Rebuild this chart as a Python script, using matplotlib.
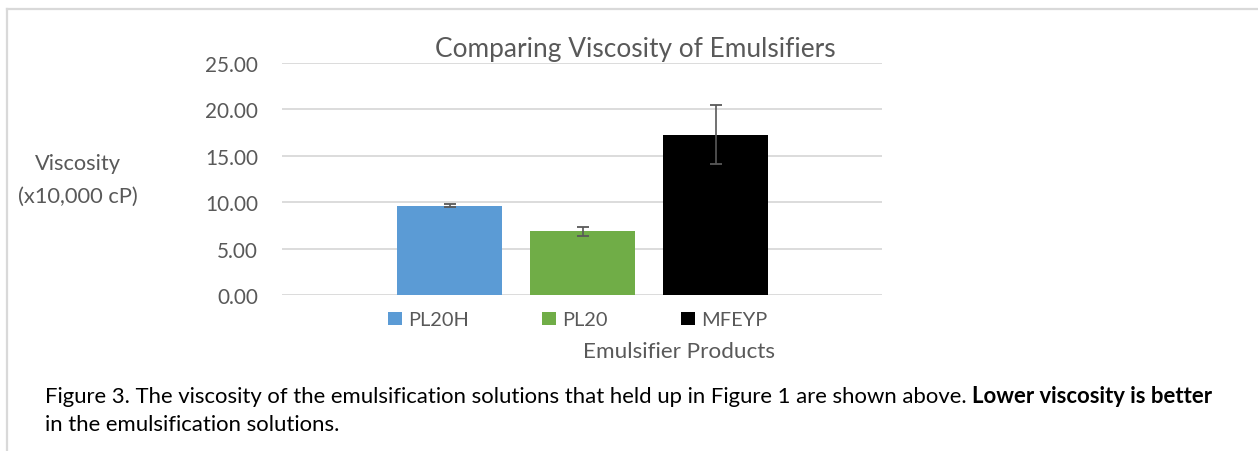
import matplotlib
matplotlib.use("Agg")
import matplotlib.pyplot as plt
from matplotlib.patches import Rectangle
from matplotlib.lines import Line2D

# ---- data ----
products = ["PL20H", "PL20", "MFEYP"]
viscosity = [9.65, 6.9, 17.3]
errors = [0.2, 0.5, 3.2]
colors = ["#5B9BD5", "#70AD47", "#000000"]
yticks = [0, 5, 10, 15, 20, 25]
title = "Comparing Viscosity of Emulsifiers"
ylabel_lines = ["Viscosity", "(x10,000 cP)"]
xlabel = "Emulsifier Products"
caption1_normal = "Figure 3. The viscosity of the emulsification solutions that held up in Figure 1 are shown above."
caption1_bold = "Lower viscosity is better"
caption2 = "in the emulsification solutions."

W, H = 1258, 452
FONT = "Lato"
GREY = "#595959"
LIGHT = "#D9D9D9"

fig = plt.figure(figsize=(W / 100, H / 100), dpi=100)
renderer = fig.canvas.get_renderer()


def fx(x):
    return x / W


def fy(y):
    return 1 - y / H


def text_w(s, size, weight="normal"):
    t = fig.text(0, 0, s, fontsize=size, family=FONT, weight=weight)
    w = t.get_window_extent(renderer).width
    t.remove()
    return w


def fit_size(s, target_w, weight="normal", base=20.0):
    return base * target_w / text_w(s, base, weight)


# ---- frame around the figure ----
fig.add_artist(Line2D([fx(7), 1], [fy(10), fy(10)], color=LIGHT, lw=1.6))
fig.add_artist(Line2D([fx(7), fx(7)], [fy(10), 0], color=LIGHT, lw=1.6))

# ---- axes ----
ax_left, ax_right, ax_top, ax_bot = 282, 882.5, 64, 296.3
ax = fig.add_axes([fx(ax_left), fy(ax_bot), (ax_right - ax_left) / W, (ax_bot - ax_top) / H])
xpos = list(range(len(products)))
spacing_px = 133.0
left_data = -(449.5 - ax_left) / spacing_px
right_data = 2 + (ax_right - 715.5) / spacing_px
ax.set_xlim(left_data, right_data)
ax.set_ylim(0, 25)

ax.bar(xpos, viscosity, width=105 / spacing_px, color=colors, zorder=3,
       yerr=errors,
       error_kw=dict(ecolor=GREY, elinewidth=1.2, capsize=4.3, capthick=1.3, zorder=4))

ax.set_yticks(yticks)
tick_size = fit_size("25.00", 53)
ax.set_yticklabels([f"{v:.2f}" for v in yticks], fontsize=tick_size, family=FONT, color=GREY)
ax.tick_params(axis="y", length=0, pad=(ax_left - 258) * 0.72)
ax.set_xticks([])
for s in ax.spines.values():
    s.set_visible(False)
ax.yaxis.grid(True, color=LIGHT, lw=1.3)
ax.set_axisbelow(True)

# ---- title ----
fig.text(fx(635), fy(57), title, fontsize=fit_size(title, 400), family=FONT,
         color=GREY, ha="center", va="baseline")

# ---- y label ----
ysz = fit_size(ylabel_lines[1], 120)
fig.text(fx(78), fy(170), ylabel_lines[0], fontsize=ysz, family=FONT, color=GREY,
         ha="center", va="baseline")
fig.text(fx(78), fy(203), ylabel_lines[1], fontsize=ysz, family=FONT, color=GREY,
         ha="center", va="baseline")

# ---- legend ----
leg_size = fit_size("MFEYP", 66)
key_x = [388, 542, 681]
for name, col, kx in zip(products, colors, key_x):
    fig.add_artist(Rectangle((fx(kx), fy(326)), 13.5 / W, 13 / H, transform=fig.transFigure,
                             facecolor=col, edgecolor="none"))
    fig.text(fx(kx + 20), fy(326), name, fontsize=leg_size, family=FONT, color=GREY,
             ha="left", va="baseline")

# ---- x label ----
fig.text(fx(679), fy(358), xlabel, fontsize=fit_size(xlabel, 192), family=FONT,
         color=GREY, ha="center", va="baseline")

# ---- caption ----
base = 20.0
wn = text_w(caption1_normal, base)
wb = text_w(caption1_bold, base, "bold")
sp = text_w("a a", base) - text_w("aa", base)
cap_size = base * 1168 / (wn + wb + sp)
wn2 = text_w(caption1_normal, cap_size)
sp2 = text_w("a a", cap_size) - text_w("aa", cap_size)
fig.text(fx(45), fy(403), caption1_normal, fontsize=cap_size, family=FONT, color="black",
         ha="left", va="baseline")
fig.text(fx(45 + wn2 + sp2), fy(403), caption1_bold, fontsize=cap_size, family=FONT,
         weight="bold", color="black", ha="left", va="baseline")
fig.text(fx(45), fy(431), caption2, fontsize=cap_size, family=FONT, color="black",
         ha="left", va="baseline")

fig.savefig("out.png", dpi=100, facecolor="white")
